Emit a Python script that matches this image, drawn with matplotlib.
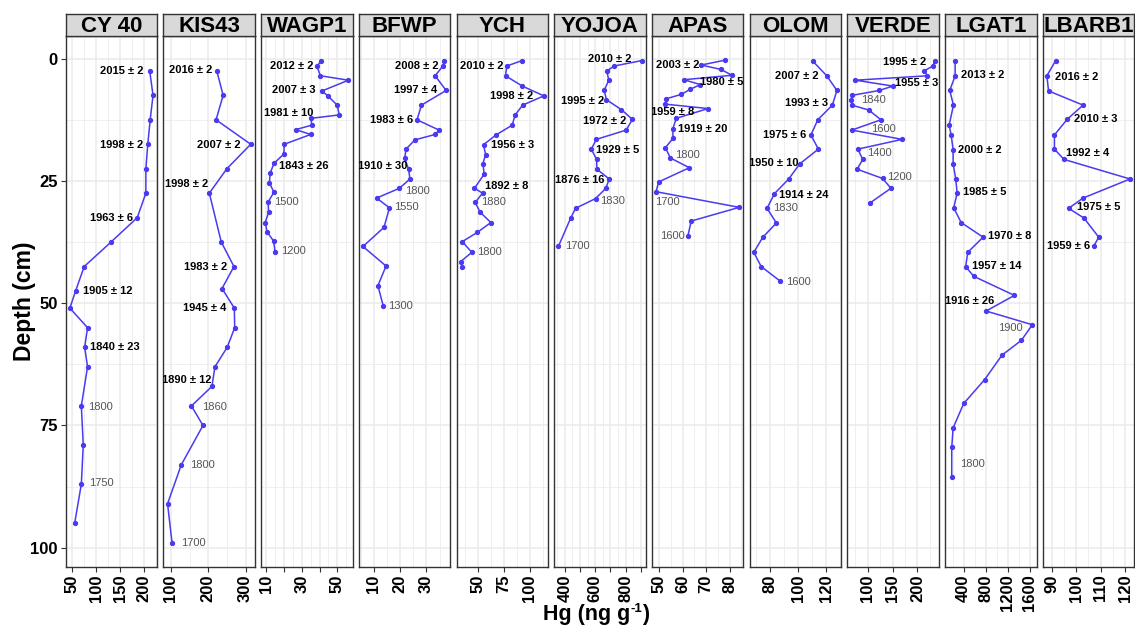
import matplotlib
matplotlib.use("Agg")
import matplotlib.pyplot as plt
import numpy as np

plt.rcParams['font.family'] = ['Liberation Sans', 'DejaVu Sans']

# ---------------------------------------------------------------- data
cores = ["CY 40", "KIS43", "WAGP1", "BFWP", "YCH", "YOJOA",
         "APAS", "OLOM", "VERDE", "LGAT1", "LBARB1"]

cy40_depth = [2.5, 7.5, 12.5, 17.5, 22.5, 27.5, 32.5, 37.5, 42.5, 47.5, 51,
              55, 59, 63, 71, 79, 87, 95]
cy40_hg = [212, 219, 213, 208, 204, 204, 186, 131, 75, 57, 45,
           82, 76, 82, 69, 73, 69, 55]

kis43_depth = [2.5, 7.5, 12.5, 17.5, 22.5, 27.5, 37.5, 42.5, 47, 51, 55, 59,
               63, 67, 71, 75, 83, 91, 99]
kis43_hg = [223, 240, 221, 314, 250, 203, 235, 269, 237, 270, 271, 251,
            218, 210, 155, 186, 128, 91, 103]

wagp1_depth = [0.4, 1.6, 3.5, 4.4, 6.6, 7.6, 9.5, 11.5, 12.2, 13.6, 14.5, 15.5,
               17.5, 19.5, 21.4, 23.4, 25.4, 27.3, 29.3, 31.4, 33.5, 35.4,
               37.3, 39.6]
wagp1_hg = [40.8, 38.6, 40.5, 56.3, 41.4, 44.6, 50.0, 51.1, 35.2, 35.6, 26.6,
            35.0, 20.1, 19.9, 14.3, 12.2, 11.7, 14.3, 11.0, 11.3, 9.4, 10.4,
            14.1, 15.0]

bfwp_depth = [0.4, 1.4, 3.5, 6.5, 9.5, 12.5, 14.6, 15.5, 16.6, 18.5, 20.4,
              22.6, 24.6, 26.5, 28.5, 30.5, 34.5, 38.4, 42.4, 46.4, 50.5]
bfwp_hg = [36.7, 36.4, 33.3, 37.5, 28.1, 26.4, 34.8, 33.3, 25.6, 22.2, 21.7,
           23.2, 23.7, 19.7, 11.0, 15.9, 13.8, 5.8, 14.6, 11.5, 13.5]

ych_depth = [0.4, 1.5, 3.5, 5.6, 7.6, 9.5, 11.5, 13.6, 15.6, 17.6, 19.6, 21.5,
             23.6, 26.5, 27.5, 29.4, 31.4, 33.5, 35.5, 37.4, 39.6, 41.5, 42.5]
ych_hg = [92.5, 77.9, 76.7, 92.8, 113.6, 93.2, 86.0, 83.1, 67.5, 55.5, 57.5,
          54.9, 56.2, 46.8, 54.6, 47.5, 52.3, 62.6, 49.7, 35.1, 44.2, 33.5, 35.1]

yojoa_depth = [0.4, 1.5, 2.5, 4.4, 6.5, 8.4, 10.4, 12.4, 14.6, 16.5, 18.5,
               20.6, 22.6, 24.6, 26.5, 28.6, 30.6, 32.6, 38.4]
yojoa_hg = [905, 725, 676, 689, 659, 674, 771, 845, 804, 607, 574,
            609, 611, 692, 670, 602, 470, 438, 357]

apas_depth = [0.3, 1.3, 2.2, 3.4, 4.3, 5.3, 6.3, 7.3, 8.2, 9.3, 10.2, 12.2,
              14.3, 16.3, 18.2, 20.3, 22.3, 25.2, 27.2, 30.4, 33.2, 36.2]
apas_hg = [78.1, 67.9, 76.3, 81.0, 60.5, 67.5, 63.0, 59.4, 52.9, 52.6, 70.8,
           57.2, 55.8, 55.8, 52.6, 54.7, 62.8, 49.7, 48.6, 84.1, 63.6, 62.2]

olom_depth = [0.5, 3.5, 6.5, 9.5, 12.5, 15.6, 18.5, 21.5, 24.6, 27.6, 30.6,
              33.6, 36.5, 39.6, 42.5, 45.5]
olom_hg = [110.3, 120.3, 127.6, 124.3, 113.9, 109.0, 114.3, 101.0, 93.1, 82.9,
           77.6, 84.3, 74.6, 68.1, 73.4, 87.1]

verde_depth = [0.4, 1.5, 2.5, 3.5, 4.4, 5.6, 6.5, 7.5, 8.4, 9.5, 10.5, 12.5,
               14.6, 16.5, 18.5, 20.6, 22.6, 24.5, 26.5, 29.5]
verde_hg = [234.6, 231.2, 213.2, 220.0, 75.2, 150.6, 123.2, 68.6, 67.2, 68.0,
            102.0, 126.6, 68.0, 169.2, 80.0, 90.0, 78.6, 130.0, 146.6, 104.6]

lgat1_depth = [0.4, 3.5, 6.5, 9.5, 13.6, 15.6, 18.6, 21.5, 24.6, 27.5, 30.5,
               33.5, 36.5, 39.6, 42.5, 44.5, 48.4, 51.6, 54.4, 57.6, 60.6,
               65.6, 70.5, 75.5, 79.5, 85.5]
lgat1_hg = [244, 244, 146, 213, 135, 171, 207, 207, 255, 280, 218, 353, 753,
            473, 436, 582, 1322, 807, 1649, 1449, 1098, 782, 400, 207, 182, 182]

lbarb1_depth = [0.4, 3.5, 6.6, 9.5, 12.4, 15.6, 18.5, 20.6, 24.6, 28.5, 30.6,
                32.6, 36.5, 38.4]
lbarb1_hg = [91.6, 88.0, 88.7, 102.8, 96.3, 91.1, 91.1, 95.0, 122.0, 102.8,
             96.9, 103.2, 109.2, 107.1]

# x-axis breaks and their labels for each core
cy40_ticks, cy40_ticklabels = [50, 100, 150, 200], ["50", "100", "150", "200"]
kis43_ticks, kis43_ticklabels = [100, 200, 300], ["100", "200", "300"]
wagp1_ticks, wagp1_ticklabels = [10, 20, 30, 40, 50], ["10", "", "30", "", "50"]
bfwp_ticks, bfwp_ticklabels = [10, 20, 30], ["10", "20", "30"]
ych_ticks, ych_ticklabels = [50, 75, 100], ["50", "75", "100"]
yojoa_ticks = [400, 500, 600, 700, 800, 900]
yojoa_ticklabels = ["400", "", "600", "", "800", ""]
apas_ticks, apas_ticklabels = [50, 60, 70, 80], ["50", "60", "70", "80"]
olom_ticks, olom_ticklabels = [80, 100, 120], ["80", "100", "120"]
verde_ticks, verde_ticklabels = [100, 150, 200], ["100", "150", "200"]
lgat1_ticks, lgat1_ticklabels = [400, 800, 1200, 1600], ["400", "800", "1200", "1600"]
lbarb1_ticks, lbarb1_ticklabels = [90, 100, 110, 120], ["90", "100", "110", "120"]

# dated horizons (210Pb / 14C ages): text, Hg position, depth, alignment
cy40_dates = [("2015 ± 2", 200, 2.45, "right"), ("1998 ± 2", 198.5, 17.6, "right"),
              ("1963 ± 6", 177.8, 32.6, "right"), ("1905 ± 12", 72.8, 47.5, "left"),
              ("1840 ± 23", 88, 58.9, "left")]
kis43_dates = [("2016 ± 2", 210, 2.4, "right"), ("2007 ± 2", 287, 17.6, "right"),
               ("1998 ± 2", 200, 25.6, "right"), ("1983 ± 2", 250, 42.5, "right"),
               ("1945 ± 4", 250, 51, "right"), ("1890 ± 12", 209, 65.6, "right")]
wagp1_dates = [("2012 ± 2", 36.6, 1.6, "right"), ("2007 ± 3", 38, 6.4, "right"),
               ("1981 ± 10", 36.6, 11.2, "right"), ("1843 ± 26", 16.9, 21.9, "left")]
bfwp_dates = [("2008 ± 2", 34.5, 1.5, "right"), ("1997 ± 4", 34.3, 6.4, "right"),
              ("1983 ± 6", 25, 12.6, "right"), ("1910 ± 30", 22.8, 21.9, "right")]
ych_dates = [("2010 ± 2", 74.7, 1.5, "right"), ("1998 ± 2", 103.2, 7.6, "right"),
             ("1956 ± 3", 62.6, 17.6, "left"), ("1892 ± 8", 56.8, 26.1, "left")]
yojoa_dates = [("2010 ± 2", 839, 0.15, "right"), ("1995 ± 2", 657, 8.65, "right"),
               ("1972 ± 2", 806, 12.65, "right"), ("1929 ± 5", 602, 18.7, "left"),
               ("1876 ± 16", 657, 24.9, "right")]
apas_dates = [("2003 ± 2", 67.2, 1.3, "right"), ("1980 ± 5", 67.5, 4.8, "left"),
              ("1959 ± 8", 64.9, 11, "right"), ("1919 ± 20", 58, 14.3, "left")]
olom_dates = [("2007 ± 2", 114.6, 3.5, "right"), ("1993 ± 3", 121, 9.1, "right"),
              ("1975 ± 6", 106, 15.6, "right"), ("1950 ± 10", 100, 21.4, "right"),
              ("1914 ± 24", 86.4, 27.8, "left")]
verde_dates = [("1995 ± 2", 218, 0.7, "right"), ("1955 ± 3", 155.2, 5, "left")]
lgat1_dates = [("2013 ± 2", 353, 3.4, "left"), ("2000 ± 2", 304, 18.65, "left"),
               ("1985 ± 5", 389, 27.3, "left"), ("1970 ± 8", 844, 36.3, "left"),
               ("1957 ± 14", 553, 42.3, "left"), ("1916 ± 26", 958, 49.6, "right")]
lbarb1_dates = [("2016 ± 2", 91.5, 3.7, "left"), ("2010 ± 3", 98.9, 12.4, "left"),
                ("1992 ± 4", 95.8, 19.3, "left"), ("1975 ± 5", 100.2, 30.4, "left"),
                ("1959 ± 6", 105.5, 38.3, "right")]

# extrapolated ages
cy40_ages = [("1800", 82.4, 71.2, "left"), ("1750", 84.4, 86.7, "left")]
kis43_ages = [("1860", 183.6, 71.3, "left"), ("1800", 151.7, 83.1, "left"),
              ("1700", 127.9, 99, "left")]
wagp1_ages = [("1500", 14.3, 29.4, "left"), ("1200", 18.1, 39.4, "left")]
bfwp_ages = [("1800", 22, 27.1, "left"), ("1550", 17.8, 30.4, "left"),
             ("1300", 15.3, 50.5, "left")]
ych_ages = [("1880", 53.6, 29.4, "left"), ("1800", 49.7, 39.6, "left")]
yojoa_ages = [("1830", 635, 29.1, "left"), ("1700", 400, 38.4, "left")]
apas_ages = [("1800", 56.6, 19.7, "left"), ("1700", 48, 29.3, "left"),
             ("1600", 50.4, 36.2, "left")]
olom_ages = [("1830", 81.7, 30.6, "left"), ("1600", 91.2, 45.6, "left")]
verde_ages = [("1840", 86.6, 8.4, "left"), ("1600", 106.6, 14.4, "left"),
              ("1400", 98.6, 19.3, "left"), ("1200", 138.6, 24.2, "left")]
lgat1_ages = [("1900", 1480, 55, "right"), ("1800", 327, 82.9, "left")]
lbarb1_ages = []

panels = [
    (cy40_depth, cy40_hg, cy40_ticks, cy40_ticklabels, cy40_dates, cy40_ages),
    (kis43_depth, kis43_hg, kis43_ticks, kis43_ticklabels, kis43_dates, kis43_ages),
    (wagp1_depth, wagp1_hg, wagp1_ticks, wagp1_ticklabels, wagp1_dates, wagp1_ages),
    (bfwp_depth, bfwp_hg, bfwp_ticks, bfwp_ticklabels, bfwp_dates, bfwp_ages),
    (ych_depth, ych_hg, ych_ticks, ych_ticklabels, ych_dates, ych_ages),
    (yojoa_depth, yojoa_hg, yojoa_ticks, yojoa_ticklabels, yojoa_dates, yojoa_ages),
    (apas_depth, apas_hg, apas_ticks, apas_ticklabels, apas_dates, apas_ages),
    (olom_depth, olom_hg, olom_ticks, olom_ticklabels, olom_dates, olom_ages),
    (verde_depth, verde_hg, verde_ticks, verde_ticklabels, verde_dates, verde_ages),
    (lgat1_depth, lgat1_hg, lgat1_ticks, lgat1_ticklabels, lgat1_dates, lgat1_ages),
    (lbarb1_depth, lbarb1_hg, lbarb1_ticks, lbarb1_ticklabels, lbarb1_dates, lbarb1_ages),
]

depth_ticks = [0, 25, 50, 75, 100]

# ---------------------------------------------------------------- style
LINE = "#4A3AF0"
BORDER = "#333333"
GRID = "#EBEBEB"
STRIP = "#D9D9D9"


def expand(lo, hi, f=0.05):
    r = hi - lo
    return lo - f * r, hi + f * r


def minor_breaks(major, lo, hi):
    major = sorted(major)
    step = major[1] - major[0]
    cand = [m + step / 2 for m in major] + [major[0] - step / 2]
    return [c for c in cand if lo <= c <= hi]


W, H = 1135, 625
fig = plt.figure(figsize=(W / 100, H / 100), dpi=100)

left0, pitch, pw = 65.7, 97.7, 91.5
p_top, p_bot, s_top = 36, 567, 14

all_depth = np.concatenate([np.asarray(p[0], float) for p in panels])
ylo, yhi = expand(all_depth.min(), all_depth.max())

for i, (name, (dep, hg, ticks, tlabels, dates, ages)) in enumerate(zip(cores, panels)):
    lx = left0 + i * pitch
    ax = fig.add_axes([lx / W, (H - p_bot) / H, pw / W, (p_bot - p_top) / H])
    xlo, xhi = expand(min(hg), max(hg))
    ax.set_xlim(xlo, xhi)
    ax.set_ylim(yhi, ylo)

    # grid
    for v in minor_breaks(ticks, xlo, xhi):
        ax.axvline(v, color=GRID, lw=0.55, zorder=0)
    for v in ticks:
        ax.axvline(v, color=GRID, lw=1.1, zorder=0)
    for v in minor_breaks(depth_ticks, ylo, yhi):
        ax.axhline(v, color=GRID, lw=0.55, zorder=0)
    for v in depth_ticks:
        ax.axhline(v, color=GRID, lw=1.1, zorder=0)

    ax.plot(hg, dep, color=LINE, lw=1.1, marker="o", ms=2.8, zorder=3)

    for txt, x, y, ha in dates:
        ax.text(x, y, txt, ha=ha, va="center", fontsize=8, fontweight="bold",
                color="black", clip_on=True, zorder=4)
    for txt, x, y, ha in ages:
        ax.text(x, y, txt, ha=ha, va="center", fontsize=8, color="#555555",
                clip_on=True, zorder=4)

    ax.set_xticks(ticks)
    ax.set_xticklabels(tlabels, rotation=90, fontsize=12, fontweight="bold",
                       va="top", ha="center")
    ax.tick_params(axis="x", length=3.8, width=0.8, color=BORDER, pad=1.4)
    if i == 0:
        ax.set_yticks(depth_ticks)
        ax.set_yticklabels([str(t) for t in depth_ticks], fontsize=12,
                           fontweight="bold")
        ax.tick_params(axis="y", length=3.8, width=0.8, color=BORDER, pad=2)
    else:
        ax.set_yticks([])
    for sp in ax.spines.values():
        sp.set_color(BORDER)
        sp.set_linewidth(1.0)

    # facet strip
    st = fig.add_axes([lx / W, (H - p_top) / H, pw / W, (p_top - s_top) / H])
    st.set_facecolor(STRIP)
    st.set_xticks([])
    st.set_yticks([])
    for sp in st.spines.values():
        sp.set_color(BORDER)
        sp.set_linewidth(1.0)
    st.text(0.5, 0.45, name, transform=st.transAxes, ha="center", va="center",
            fontsize=16, fontweight="bold", color="black")

fig.text(25 / W, 1 - 301.5 / H, "Depth (cm)", rotation=90, ha="center",
         va="center", fontsize=16.5, fontweight="bold")

# x title "Hg (ng g-1)" built from pieces so the exponent can be raised
renderer = fig.canvas.get_renderer()
title_parts = [("Hg (ng g", 15.5, 0.0), ("-1", 9.5, 8.0), (")", 15.5, 0.0)]
base_y = 620.0
items = []
for txt, fs, rise in title_parts:
    t = fig.text(0, 0, txt, fontsize=fs, fontweight="bold", ha="left",
                 va="baseline")
    w = t.get_window_extent(renderer=renderer).width
    items.append((t, w, rise))
total_w = sum(w for _, w, _ in items)
x = 596 - total_w / 2
for t, w, rise in items:
    t.set_position((x / W, (H - base_y + rise) / H))
    x += w

fig.savefig("out.png", dpi=100)
